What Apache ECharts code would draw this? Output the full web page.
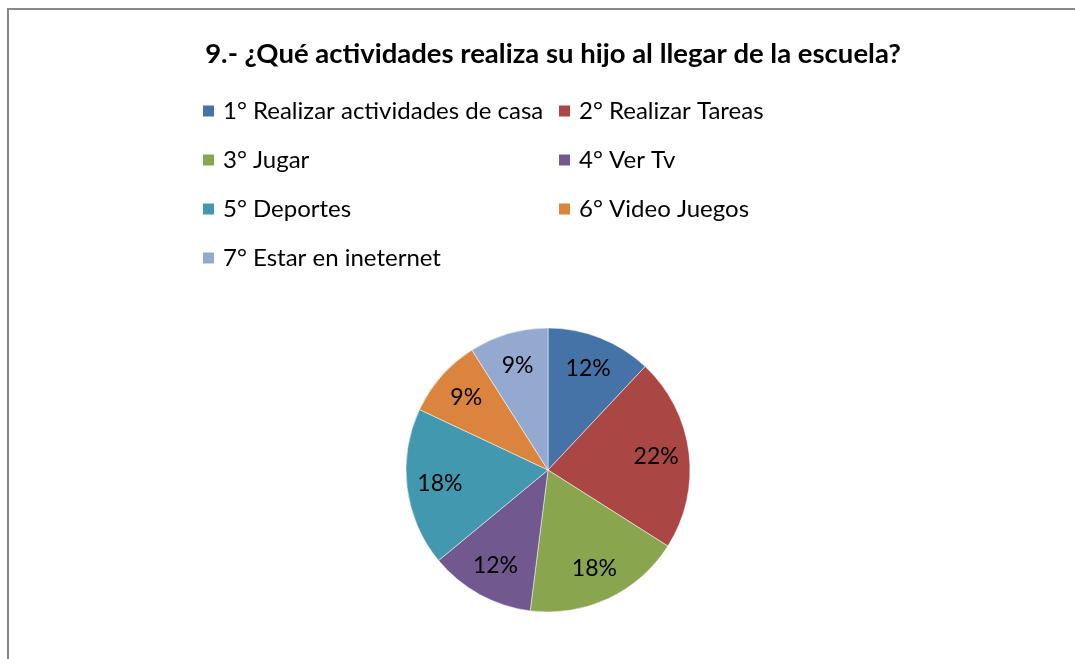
<!DOCTYPE html>
<html>
<head>
<meta charset="utf-8">
<script src="https://cdn.jsdelivr.net/npm/echarts@6/dist/echarts.min.js"></script>
<style>
  html, body { margin: 0; padding: 0; background: #fff; }
  #chart { width: 1075px; height: 659px; }
</style>
</head>
<body>
<div id="chart"></div>
<script>
  // datos de la encuesta
  const titleText = '9.- ¿Qué actividades realiza su hijo al llegar de la escuela?'
  const categories = [
    '1° Realizar actividades de casa',
    '2° Realizar Tareas',
    '3° Jugar',
    '4° Ver Tv',
    '5° Deportes',
    '6° Video Juegos',
    '7° Estar en ineternet',
  ]
  const values = [12, 22, 18, 12, 18, 9, 9]
  const colors = ['#4572A7', '#AA4643', '#89A54E', '#71588F', '#4198AF', '#DB843D', '#93A9CF']

  const pieData = categories.map((name, i) => ({ name: name, value: values[i] }))
  const font = 'Lato, "Open Sans", sans-serif'

  const legendBase = {
    orient: 'vertical',
    icon: 'rect',
    itemWidth: 13,
    itemHeight: 13,
    itemGap: 25,
    selectedMode: false,
    textStyle: { fontFamily: font, fontSize: 24, color: '#000', padding: [0, 0, 0, 3] },
  }

  const option = {
    color: colors,
    animation: false,
    title: {
      text: titleText,
      left: 548,
      textAlign: 'center',
      top: 35,
      textStyle: { fontFamily: font, fontSize: 27.5, fontWeight: 'bold', color: '#000' },
    },
    legend: [
      Object.assign({}, legendBase, {
        left: 196,
        top: 94,
        data: [categories[0], categories[2], categories[4], categories[6]],
      }),
      Object.assign({}, legendBase, {
        left: 552,
        top: 94,
        data: [categories[1], categories[3], categories[5]],
      }),
    ],
    graphic: [
      {
        type: 'rect',
        shape: { x: 8, y: 9, width: 1200, height: 800 },
        style: { fill: 'none', stroke: '#888', lineWidth: 2 },
        silent: true,
      },
    ],
    series: [
      {
        type: 'pie',
        center: [548, 470],
        radius: 142,
        startAngle: 90,
        clockwise: true,
        data: pieData,
        label: { show: false },
        labelLine: { show: false },
        itemStyle: { borderColor: '#fff', borderWidth: 0.5 },
        emphasis: { disabled: true },
      },
      // capa transparente para ubicar las etiquetas
      {
        type: 'pie',
        center: [548, 470],
        radius: [70, 142],
        startAngle: 90,
        clockwise: true,
        data: pieData,
        silent: true,
        itemStyle: { color: 'rgba(0,0,0,0)' },
        label: {
          show: true,
          position: 'inside',
          formatter: (p) => p.value + '%',
          fontFamily: font,
          fontSize: 23,
          color: '#000',
        },
        labelLine: { show: false },
        emphasis: { disabled: true },
      },
    ],
  }

  const myChart = echarts.init(document.getElementById('chart'))
  myChart.setOption(option)
</script>
</body>
</html>
